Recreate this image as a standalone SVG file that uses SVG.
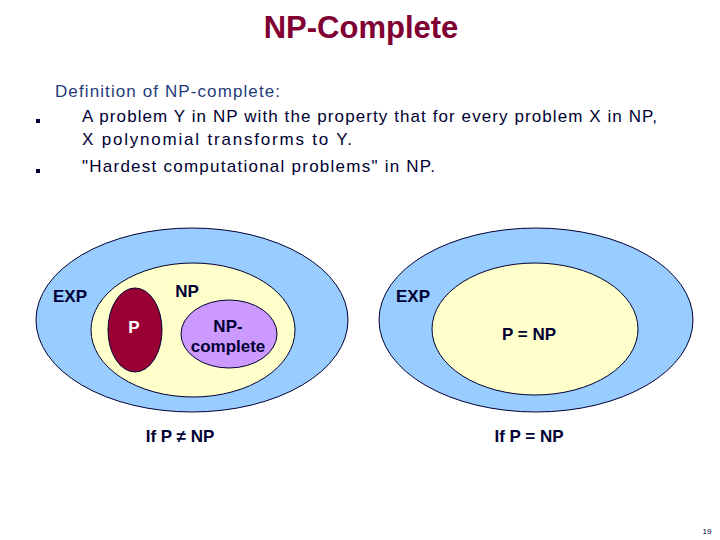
<svg xmlns="http://www.w3.org/2000/svg" width="720" height="540" viewBox="0 0 720 540">
<style>
text{font-family:"Liberation Sans",Arial,sans-serif}
.lab{font-weight:bold;font-size:17px;fill:#000033;text-anchor:middle}
.body{font-size:17px;fill:#000033}
.exp{fill:#99CCFF;stroke:#000033;stroke-width:1}
.np{fill:#FFFFCC;stroke:#000033;stroke-width:1}
</style>
<rect width="720" height="540" fill="#fff"/>
<text x="361" y="38" text-anchor="middle" font-size="31" font-weight="bold" fill="#800033">NP-Complete</text>
<text class="body" x="55" y="97" textLength="225" style="fill:#1F3C7A">Definition of NP-complete:</text>
<rect x="36" y="119" width="4" height="4" fill="#000033"/>
<text class="body" x="82" y="122" textLength="575">A problem Y in NP with the property that for every problem X in NP,</text>
<text class="body" x="82" y="145" textLength="270">X polynomial transforms to Y.</text>
<rect x="36" y="169" width="4" height="4" fill="#000033"/>
<text class="body" x="82" y="172" textLength="353">"Hardest computational problems" in NP.</text>
<g id="left">
<ellipse class="exp" cx="192" cy="320" rx="156" ry="92"/>
<ellipse class="np" cx="193" cy="330" rx="102" ry="67"/>
<ellipse cx="135" cy="330" rx="27" ry="42" fill="#990033" stroke="#000033"/>
<ellipse cx="229" cy="334" rx="48" ry="34" fill="#CC99FF" stroke="#000033"/>
<text class="lab" x="70" y="302">EXP</text>
<text class="lab" x="187" y="297">NP</text>
<text class="lab" x="134" y="333" style="fill:#fff">P</text>
<text class="lab" x="228" y="332">NP-</text>
<text class="lab" x="228" y="352">complete</text>
<text class="lab" x="180" y="442">If  P ≠ NP</text>
</g>
<g id="right">
<ellipse class="exp" cx="536" cy="320" rx="157" ry="92"/>
<ellipse class="np" cx="535" cy="329" rx="103" ry="66"/>
<text class="lab" x="413" y="302">EXP</text>
<text class="lab" x="529" y="340">P = NP</text>
<text class="lab" x="529" y="442">If  P = NP</text>
</g>
<text x="707" y="534" text-anchor="middle" font-size="8" fill="#000033">19</text>
</svg>
